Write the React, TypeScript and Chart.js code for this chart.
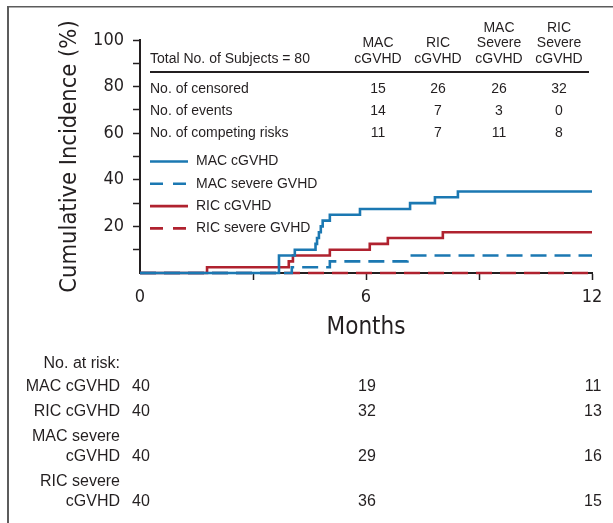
import { useEffect, useRef } from 'react';
import { Chart, registerables } from 'chart.js';

Chart.register(...registerables);

// ---------- data ----------
const seriesNames = ['MAC cGVHD', 'MAC severe GVHD', 'RIC cGVHD', 'RIC severe GVHD'];

const macTimes = [0, 3.69, 4.11, 4.66, 4.7, 4.75, 4.8, 4.85, 5.04, 5.84, 7.17, 7.83, 8.44, 12];
const macCI = [0, 7.5, 10, 12.5, 15, 17.5, 20, 22.5, 25, 27.5, 30, 32.5, 35, 35];

const macSevereTimes = [0, 4.03, 5.04, 7.1, 12];
const macSevereCI = [0, 2.5, 5, 7.5, 7.5];

const ricTimes = [0, 1.78, 3.95, 4.06, 5.04, 6.1, 6.58, 8.04, 12];
const ricCI = [0, 2.5, 5, 7.5, 10, 12.5, 15, 17.5, 17.5];

const ricSevereTimes = [0, 12];
const ricSevereCI = [0, 0];

const xTickValues = [0, 6, 12];
const yTickValues = [20, 40, 60, 80, 100];

const tableTitle = 'Total No. of Subjects = 80';
const tableColumns = [
  ['MAC', 'cGVHD'],
  ['RIC', 'cGVHD'],
  ['MAC', 'Severe', 'cGVHD'],
  ['RIC', 'Severe', 'cGVHD'],
];
const tableRowLabels = ['No. of censored', 'No. of events', 'No. of competing risks'];
const censoredCounts = [15, 26, 26, 32];
const eventCounts = [14, 7, 3, 0];
const competingCounts = [11, 7, 11, 8];

const riskTitle = 'No. at risk:';
const riskLabels = [['MAC cGVHD'], ['RIC cGVHD'], ['MAC severe', 'cGVHD'], ['RIC severe', 'cGVHD']];
const riskMonths = [0, 6, 12];
const riskMacC = [40, 19, 11];
const riskRicC = [40, 32, 13];
const riskMacS = [40, 29, 16];
const riskRicS = [40, 36, 15];

// ---------- styles ----------
const BLUE = '#1b78b2';
const RED = '#b0222f';
const INK = '#231f20';
const NARROW = '"DejaVu Sans Condensed", "Liberation Sans Narrow", sans-serif';
const SANS = '"Liberation Sans", Arial, Helvetica, sans-serif';

const toPoints = (xs: number[], ys: number[]) => xs.map((x, i) => ({ x, y: ys[i] }));

const overlayPlugin = {
  id: 'overlay',
  beforeDraw(chart: any) {
    const ctx = chart.ctx as CanvasRenderingContext2D;
    ctx.save();
    ctx.fillStyle = '#ffffff';
    ctx.fillRect(0, 0, chart.width, chart.height);
    ctx.fillStyle = '#5c5c5c';
    ctx.fillRect(7, 6, chart.width, 1.5);
    ctx.fillRect(7, 6, 2, chart.height);
    ctx.restore();
  },
  afterDraw(chart: any) {
    const ctx = chart.ctx as CanvasRenderingContext2D;
    const xs = chart.scales.x;
    ctx.save();
    ctx.fillStyle = INK;
    ctx.textBaseline = 'middle';

    // ---- summary table ----
    ctx.font = `14px ${SANS}`;
    const colX = [378, 438, 499, 559];
    const headLastY = 59;
    const headStep = 15.5;
    ctx.textAlign = 'left';
    ctx.fillText(tableTitle, 150, headLastY);
    ctx.textAlign = 'center';
    tableColumns.forEach((lines, i) => {
      lines.forEach((ln, j) => {
        ctx.fillText(ln, colX[i], headLastY - (lines.length - 1 - j) * headStep);
      });
    });
    ctx.fillRect(150, 71, 439, 2);
    const rowY = [89, 111, 133];
    const rowVals = [censoredCounts, eventCounts, competingCounts];
    tableRowLabels.forEach((lab, r) => {
      ctx.textAlign = 'left';
      ctx.fillText(lab, 150, rowY[r]);
      ctx.textAlign = 'center';
      rowVals[r].forEach((v, i) => ctx.fillText(String(v), colX[i], rowY[r]));
    });

    // ---- legend ----
    chart.data.datasets.forEach((ds: any, i: number) => {
      const y = 161.5 + i * 22.3;
      ctx.save();
      ctx.strokeStyle = ds.borderColor;
      ctx.lineWidth = ds.borderWidth;
      ctx.setLineDash(ds.borderDash && ds.borderDash.length ? [13, 10] : []);
      ctx.beginPath();
      ctx.moveTo(150, y);
      ctx.lineTo(188, y);
      ctx.stroke();
      ctx.restore();
      ctx.textAlign = 'left';
      ctx.fillText(ds.label, 196, y);
    });

    // ---- number at risk ----
    ctx.font = `16px ${SANS}`;
    ctx.textAlign = 'right';
    ctx.fillText(riskTitle, 120, 364);
    const riskRowY = [[387], [412], [437, 457], [482, 502]];
    const riskVals = [riskMacC, riskRicC, riskMacS, riskRicS];
    riskLabels.forEach((lines, r) => {
      ctx.textAlign = 'right';
      lines.forEach((ln, j) => ctx.fillText(ln, 120, riskRowY[r][j]));
      const yLast = riskRowY[r][lines.length - 1];
      ctx.textAlign = 'center';
      riskMonths.forEach((m, k) => {
        ctx.fillText(String(riskVals[r][k]), xs.getPixelForValue(m) + 1, yLast);
      });
    });
    ctx.restore();
  },
};

export default function App() {
  const ref = useRef<HTMLCanvasElement | null>(null);
  useEffect(() => {
    if (!ref.current) return;
    const chart = new Chart(ref.current, {
      type: 'line',
      data: {
        datasets: [
          { label: seriesNames[0], data: toPoints(macTimes, macCI), borderColor: BLUE, borderWidth: 2.6, borderDash: [] },
          { label: seriesNames[1], data: toPoints(macSevereTimes, macSevereCI), borderColor: BLUE, borderWidth: 2.6, borderDash: [16, 8] },
          { label: seriesNames[2], data: toPoints(ricTimes, ricCI), borderColor: RED, borderWidth: 2.6, borderDash: [] },
          { label: seriesNames[3], data: toPoints(ricSevereTimes, ricSevereCI), borderColor: RED, borderWidth: 2.6, borderDash: [16, 8] },
        ],
      },
      options: {
        animation: false,
        responsive: false,
        devicePixelRatio: 1,
        layout: { padding: { left: 0, right: 21, top: 40, bottom: 175 } },
        elements: {
          line: { stepped: true, tension: 0, fill: false, borderCapStyle: 'butt' },
          point: { radius: 0, hoverRadius: 0 },
        },
        datasets: { line: { clip: false } as any },
        plugins: { legend: { display: false }, tooltip: { enabled: false } },
        scales: {
          x: {
            type: 'linear',
            min: 0,
            max: 12,
            afterFit: (s: any) => { s.height = 75; },
            afterBuildTicks: (s: any) => { s.ticks = [0, 3, 6, 9, 12].map((v) => ({ value: v })); },
            ticks: {
              autoSkip: false,
              maxRotation: 0,
              padding: 7,
              color: INK,
              font: { family: NARROW, size: 18 },
              callback: (v: any) => (xTickValues.includes(Number(v)) ? String(v) : ''),
            },
            grid: {
              display: true,
              drawOnChartArea: false,
              drawTicks: true,
              tickLength: 7,
              tickWidth: 1.5,
              tickColor: (c: any) => (c.tick && c.tick.value === 0 ? 'rgba(0,0,0,0)' : INK),
            },
            border: { display: true, color: INK, width: 2 },
            title: {
              display: true,
              text: 'Months',
              color: INK,
              font: { family: NARROW, size: 24 },
              padding: { top: 0, bottom: 5.5 },
            },
          },
          y: {
            type: 'linear',
            min: 0,
            max: 100,
            afterFit: (s: any) => { s.width = 140; },
            afterBuildTicks: (s: any) => { s.ticks = [0, 10, 20, 30, 40, 50, 60, 70, 80, 90, 100].map((v) => ({ value: v })); },
            ticks: {
              autoSkip: false,
              padding: 9,
              color: INK,
              font: { family: NARROW, size: 18 },
              callback: (v: any) => (yTickValues.includes(Number(v)) ? String(v) : ''),
            },
            grid: {
              display: true,
              drawOnChartArea: false,
              drawTicks: true,
              tickLength: 7,
              tickWidth: 1.5,
              tickColor: (c: any) => (c.tick && c.tick.value === 0 ? 'rgba(0,0,0,0)' : INK),
            },
            border: { display: true, color: INK, width: 2 },
            title: {
              display: true,
              text: 'Cumulative Incidence (%)',
              color: INK,
              font: { family: NARROW, size: 23.5 },
              padding: { top: 55.5, bottom: 0 },
            },
          },
        },
      },
      plugins: [overlayPlugin],
    } as any);
    return () => chart.destroy();
  }, []);
  return (
    <canvas
      ref={ref}
      width={613}
      height={523}
      style={{ position: 'absolute', left: 0, top: 0, display: 'block' }}
    />
  );
}
